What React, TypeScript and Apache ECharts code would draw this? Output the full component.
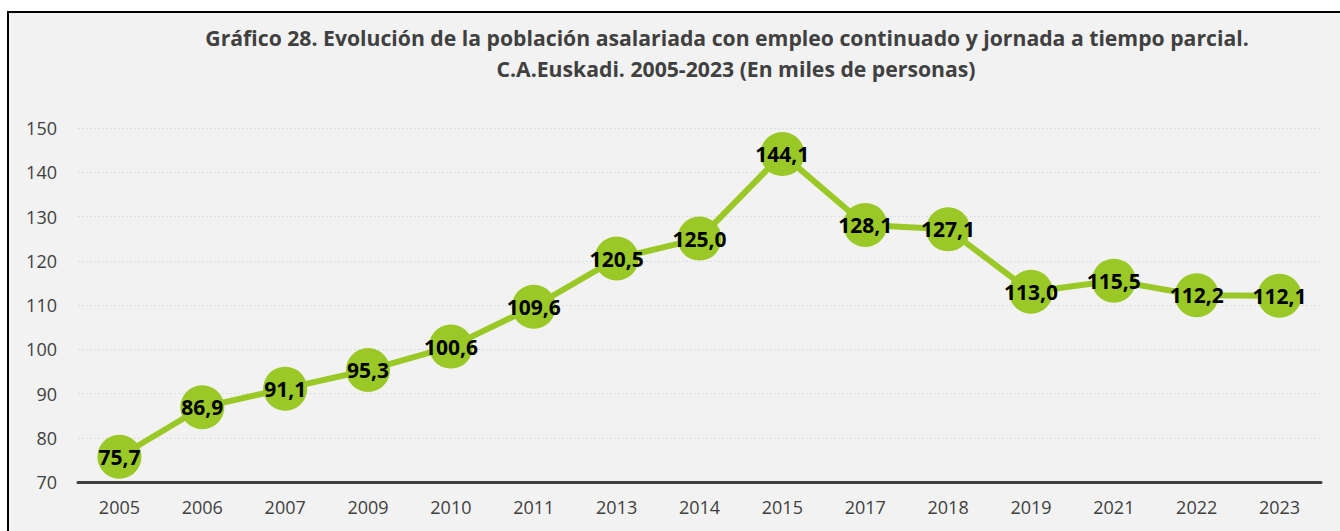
import React, { useEffect, useRef } from "react";
import * as echarts from "echarts";

const categories = ["2005", "2006", "2007", "2009", "2010", "2011", "2013", "2014", "2015", "2017", "2018", "2019", "2021", "2022", "2023"];
const values = [75.7, 86.9, 91.1, 95.3, 100.6, 109.6, 120.5, 125.0, 144.1, 128.1, 127.1, 113.0, 115.5, 112.2, 112.1];
const titleLine1 = "Gráfico 28. Evolución de la población asalariada con empleo continuado y jornada a tiempo parcial.";
const titleLine2 = "C.A.Euskadi. 2005-2023 (En miles de personas)";

const FONT = "'Open Sans', sans-serif";

export default function App() {
  const ref = useRef<HTMLDivElement>(null);
  useEffect(() => {
    if (!ref.current) return;
    const chart = echarts.init(ref.current, null, { renderer: "svg" });
    chart.setOption({
      animation: false,
      backgroundColor: "#ffffff",
      graphic: [
        {
          type: "rect",
          z: -10,
          silent: true,
          shape: { x: 8, y: 12, width: 1345, height: 530 },
          style: { fill: "#f2f2f2", stroke: "#000000", lineWidth: 2 },
        },
        {
          type: "text",
          x: 727,
          y: 37,
          style: {
            text: titleLine1,
            fontFamily: FONT,
            fontWeight: "bold",
            fontSize: 21.2,
            fill: "#404040",
            align: "center",
            verticalAlign: "middle",
          },
        },
        {
          type: "text",
          x: 736,
          y: 68,
          style: {
            text: titleLine2,
            fontFamily: FONT,
            fontWeight: "bold",
            fontSize: 21.2,
            fill: "#404040",
            align: "center",
            verticalAlign: "middle",
          },
        },
      ],
      grid: { left: 78, right: 19, top: 128, bottom: 49, containLabel: false },
      xAxis: {
        type: "category",
        data: categories,
        boundaryGap: true,
        axisLine: { show: true, lineStyle: { color: "#404040", width: 3 } },
        axisTick: { show: false },
        axisLabel: { color: "#404040", fontSize: 18, fontFamily: FONT, margin: 16 },
        splitLine: { show: false },
      },
      yAxis: {
        type: "value",
        min: 70,
        max: 150,
        interval: 10,
        axisLine: { show: false },
        axisTick: { show: false },
        axisLabel: { color: "#404040", fontSize: 18, fontFamily: FONT, margin: 21 },
        splitLine: { show: true, lineStyle: { color: "#dadfdf", width: 1, type: [2, 2] } },
      },
      series: [
        {
          type: "line",
          data: values,
          symbol: "circle",
          symbolSize: 44,
          lineStyle: { color: "#9ac927", width: 6 },
          itemStyle: { color: "#9ac927", borderWidth: 0 },
          label: {
            show: true,
            position: "inside",
            color: "#000000",
            fontWeight: "bold",
            fontSize: 21,
            fontFamily: FONT,
            formatter: (p: any) => Number(p.value).toFixed(1).replace(".", ","),
          },
        },
      ],
    });
    return () => chart.dispose();
  }, []);
  return (
    <div style={{ position: "absolute", left: 0, top: 0, width: 1340, height: 531 }}>
      <div ref={ref} style={{ width: 1340, height: 531 }} />
    </div>
  );
}
